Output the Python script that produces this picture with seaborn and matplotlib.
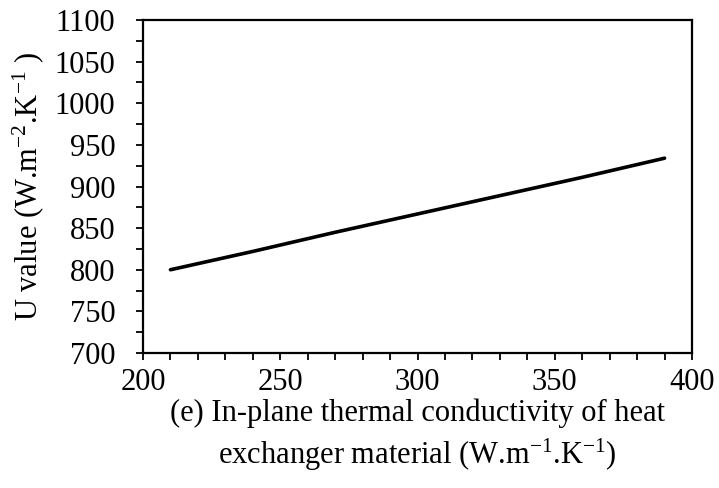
import numpy as np
import pandas as pd
import matplotlib
matplotlib.use("Agg")
import matplotlib.pyplot as plt
import seaborn as sns
from matplotlib.ticker import MultipleLocator

conductivity = [210, 240, 270, 300, 330, 360, 390]
u_value = [800, 822, 845, 867, 889, 911, 934]

df = pd.DataFrame({"k": conductivity, "U": u_value})

sns.set_style("ticks")
plt.rcParams["font.family"] = ["Liberation Serif", "DejaVu Serif"]
plt.rcParams["mathtext.fontset"] = "custom"
plt.rcParams["mathtext.rm"] = "Liberation Serif"
plt.rcParams["mathtext.it"] = "Liberation Serif:italic"
plt.rcParams["text.color"] = "black"
plt.rcParams["axes.labelcolor"] = "black"

fig = plt.figure(figsize=(7.19, 4.88), dpi=100)
ax = fig.add_axes([143/719, 1-353/488, (692-143)/719, (353-20)/488])

sns.lineplot(data=df, x="k", y="U", ax=ax, color="black", linewidth=2.6)

ax.set_xlim(200, 400)
ax.set_ylim(700, 1100)
ax.xaxis.set_major_locator(MultipleLocator(50))
ax.xaxis.set_minor_locator(MultipleLocator(10))
ax.yaxis.set_major_locator(MultipleLocator(50))
ax.yaxis.set_minor_locator(MultipleLocator(25))

for s in ax.spines.values():
    s.set_visible(True)
    s.set_linewidth(1.6)
    s.set_color("black")

ax.tick_params(axis="both", which="both", direction="out", color="black", width=1.3,
               labelsize=22, labelcolor="black", length=5)
ax.tick_params(axis="y", which="major", pad=15)
ax.tick_params(axis="x", which="major", pad=6)

ax.set_xlabel("(e) In-plane thermal conductivity of heat\nexchanger material (W.m$^{\\mathrm{-1}}$.K$^{\\mathrm{-1}}$)",
              fontsize=22, labelpad=1, linespacing=1.3, color="black")
ax.set_ylabel("U value (W.m$^{\\mathrm{-2}}$.K$^{\\mathrm{-1}}$ )", fontsize=22, labelpad=6, color="black")

fig.savefig("out.png", dpi=100)
